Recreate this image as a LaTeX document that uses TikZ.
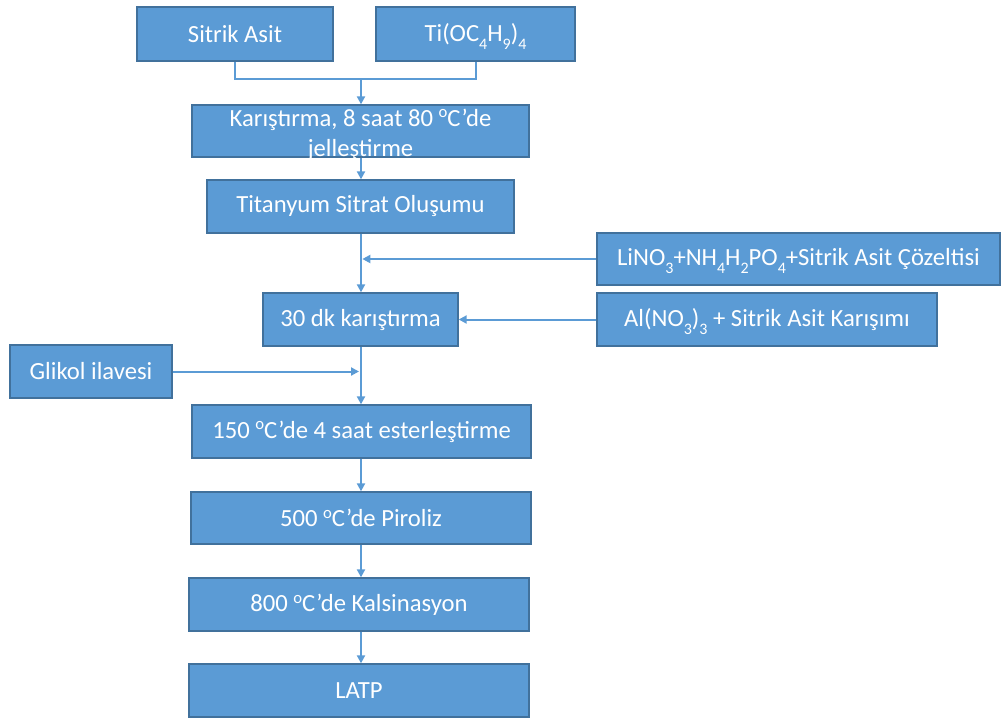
\documentclass[tikz,border=0pt]{standalone}
\usepackage{fontspec}
\setmainfont{Carlito}
\usetikzlibrary{arrows.meta}
\definecolor{boxfill}{HTML}{5B9BD5}
\definecolor{boxedge}{HTML}{41719C}
\definecolor{linkcol}{HTML}{5B9BD5}
\newcommand{\sbs}[1]{\raisebox{-0.32em}[0pt][0pt]{\fontsize{12}{12}\selectfont #1}}
\newcommand{\dgo}{\raisebox{0.33em}[0pt][0pt]{\fontsize{12.5}{12}\selectfont o}}
\newcommand{\degc}{\dgo C’de}
\begin{document}
\begin{tikzpicture}[x=0.75pt,y=-0.75pt,
  box/.style={rectangle, fill=boxfill, draw=boxedge, line width=1pt, text=white,
    inner sep=0pt, font=\fontsize{18.5}{22.5}\selectfont, align=center},
  link/.style={draw=linkcol, line width=1.5pt},
  arr/.style={link, -{Triangle[length=6pt,width=6pt]}}]
\useasboundingbox (0,0) rectangle (1002,718);

\node[box, minimum width=147pt, minimum height=40.5pt] (sa) at (235,34) {Sitrik Asit};
\node[box, minimum width=149.25pt, minimum height=40.5pt] (ti) at (475.5,34) {Ti(OC\sbs{4}H\sbs{9})\sbs{4}};
\node[box, minimum width=252.75pt, minimum height=39pt] (kar) at (360.5,131)
  {\raisebox{-3pt}[\dimexpr\height-6pt\relax][\dimexpr\depth-6pt\relax]{\begin{tabular}{@{}c@{}}Karıştırma, 8 saat 80 \degc\\ jelleştirme\end{tabular}}};
\node[box, minimum width=230.25pt, minimum height=39.75pt] (tsit) at (360.5,206.5) {Titanyum Sitrat Oluşumu};
\node[box, minimum width=302.25pt, minimum height=39pt] (lino) at (798.5,259) {LiNO\sbs{3}+NH\sbs{4}H\sbs{2}PO\sbs{4}+Sitrik Asit Çözeltisi};
\node[box, minimum width=146.25pt, minimum height=39.75pt] (dk) at (360.5,319.5) {30 dk karıştırma};
\node[box, minimum width=255pt, minimum height=39.75pt] (al) at (767,319.5) {Al(NO\sbs{3})\sbs{3} + Sitrik Asit Karışımı};
\node[box, minimum width=121.5pt, minimum height=39.75pt] (gli) at (91,371.5) {Glikol ilavesi};
\node[box, minimum width=254.25pt, minimum height=39.75pt] (est) at (361.5,431.5) {150 \dgo C’de 4 saat esterleştirme};
\node[box, minimum width=255pt, minimum height=39pt] (pir) at (361,518) {500 \degc\ Piroliz};
\node[box, minimum width=255pt, minimum height=39.75pt] (kal) at (359,604.5) {800 \degc\ Kalsinasyon};
\node[box, minimum width=255pt, minimum height=39.75pt] (latp) at (359,690.5) {LATP};

\coordinate (jn) at (361,79);
\draw[link] (sa.south) |- (jn) -| (ti.south);
\draw[arr] (jn) -- (jn |- kar.north);
\draw[arr] (jn |- kar.south) -- (jn |- tsit.north);
\draw[arr] (jn |- tsit.south) -- (jn |- dk.north);
\draw[arr] (lino.west) -- ([xshift=1pt]lino.west -| jn);
\draw[arr] (al.west) -- (dk.east);
\draw[arr] (gli.east) -- ([xshift=-1.5pt]gli.east -| jn);
\draw[arr] (jn |- dk.south) -- (jn |- est.north);
\draw[arr] (jn |- est.south) -- (jn |- pir.north);
\draw[arr] (jn |- pir.south) -- (jn |- kal.north);
\draw[arr] (jn |- kal.south) -- (jn |- latp.north);
\end{tikzpicture}
\end{document}
